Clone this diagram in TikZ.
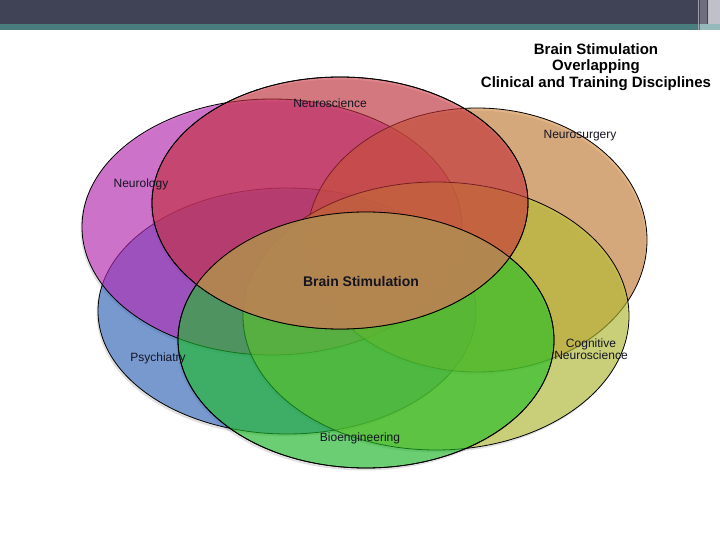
\documentclass[tikz,border=0pt]{standalone}
\usepackage{fontspec}
\setmainfont{Liberation Sans}
\definecolor{barc}{RGB}{64,67,86}
\definecolor{tealc}{RGB}{74,125,125}
\definecolor{lineA}{RGB}{160,160,174}
\definecolor{lineB}{RGB}{110,110,124}
\definecolor{lineC}{RGB}{184,184,194}
\definecolor{lineD}{RGB}{192,192,200}
\definecolor{lineE}{RGB}{150,185,188}
\definecolor{cNsci}{RGB}{200,50,60}
\definecolor{cNeur}{RGB}{190,40,185}
\definecolor{cPsy}{RGB}{50,105,195}
\definecolor{cNsur}{RGB}{205,130,55}
\definecolor{cCog}{RGB}{185,195,50}
\definecolor{cBio}{RGB}{30,195,40}
\definecolor{cBrown}{RGB}{185,143,85}
\definecolor{txt}{RGB}{20,20,35}
\tikzset{
  venn/.style={draw=black, line width=0.8pt, fill opacity=0.6},
  rim/.style={draw=black, line width=0.8pt},
  shade/.style={fill=black, opacity=0.12},
  lbl/.style={font=\fontsize{12}{14}\selectfont, text=txt, inner sep=0pt},
  ttl/.style={font=\bfseries\fontsize{15}{16.5}\selectfont, text=black, align=center, inner sep=0pt}
}
\begin{document}
\begin{tikzpicture}[x=1pt,y=-1pt]
\useasboundingbox (0,0) rectangle (720,540);
% top bar
\fill[barc] (0,0) rectangle (720,24);
\fill[tealc] (0,24) rectangle (720,30);
\fill[lineA] (697.5,0) rectangle (698.5,30);
\fill[lineB] (700,0) rectangle (706.5,24);
\fill[lineC] (707.5,0) rectangle (708.5,30);
\fill[lineD] (709,0) rectangle (720,24);
\fill[lineE] (700,24) rectangle (720,30);
% shadows
\foreach \cx/\cy/\rx/\ry in {272/227/190/128, 287/311/189/123, 477/240/170/132, 436/316/193/134, 366/340/188/128, 340/203/188/126}
  \fill[shade] (\cx-1.5,\cy+2.5) ellipse [x radius=\rx, y radius=\ry];
% ellipses (bottom to top)
\filldraw[venn, fill=cPsy]  (287,311) ellipse [x radius=189, y radius=123];
\filldraw[venn, fill=cNeur] (272,227) ellipse [x radius=190, y radius=128];
\filldraw[venn, fill=cNsur] (477,240) ellipse [x radius=170, y radius=132];
\filldraw[venn, fill=cCog]  (436,316) ellipse [x radius=193, y radius=134];
\filldraw[venn, fill=cBio]  (366,340) ellipse [x radius=188, y radius=128];
\filldraw[venn, fill=cNsci] (340,203) ellipse [x radius=188, y radius=126];
% central overlap
\begin{scope}
  \clip (340,203) ellipse [x radius=188, y radius=126];
  \fill[cBrown, opacity=0.8] (366,340) ellipse [x radius=188, y radius=128];
\end{scope}
\draw[rim] (340,203) ellipse [x radius=188, y radius=126];
\draw[rim] (366,340) ellipse [x radius=188, y radius=128];
% labels
\node[lbl] (nsci) at (330,103) {Neuroscience};
\node[lbl] (neur) at (141,184) {Neurology};
\node[lbl] (nsur) at (580,136) {Neurosurgery};
\node[lbl, font=\bfseries\fontsize{14}{16}\selectfont] (bs) at (361,281) {Brain Stimulation};
\node[lbl] (psy) at (158,358) {Psychiatry};
\node[lbl, align=center, font=\fontsize{12}{12.5}\selectfont] (cog) at (591,349) {Cognitive\\Neuroscience};
\node[lbl] (bio) at (360,438) {Bioengineering};
\node[ttl] (title) at (596,67) {Brain Stimulation\\Overlapping\\Clinical and Training Disciplines};
\end{tikzpicture}
\end{document}
